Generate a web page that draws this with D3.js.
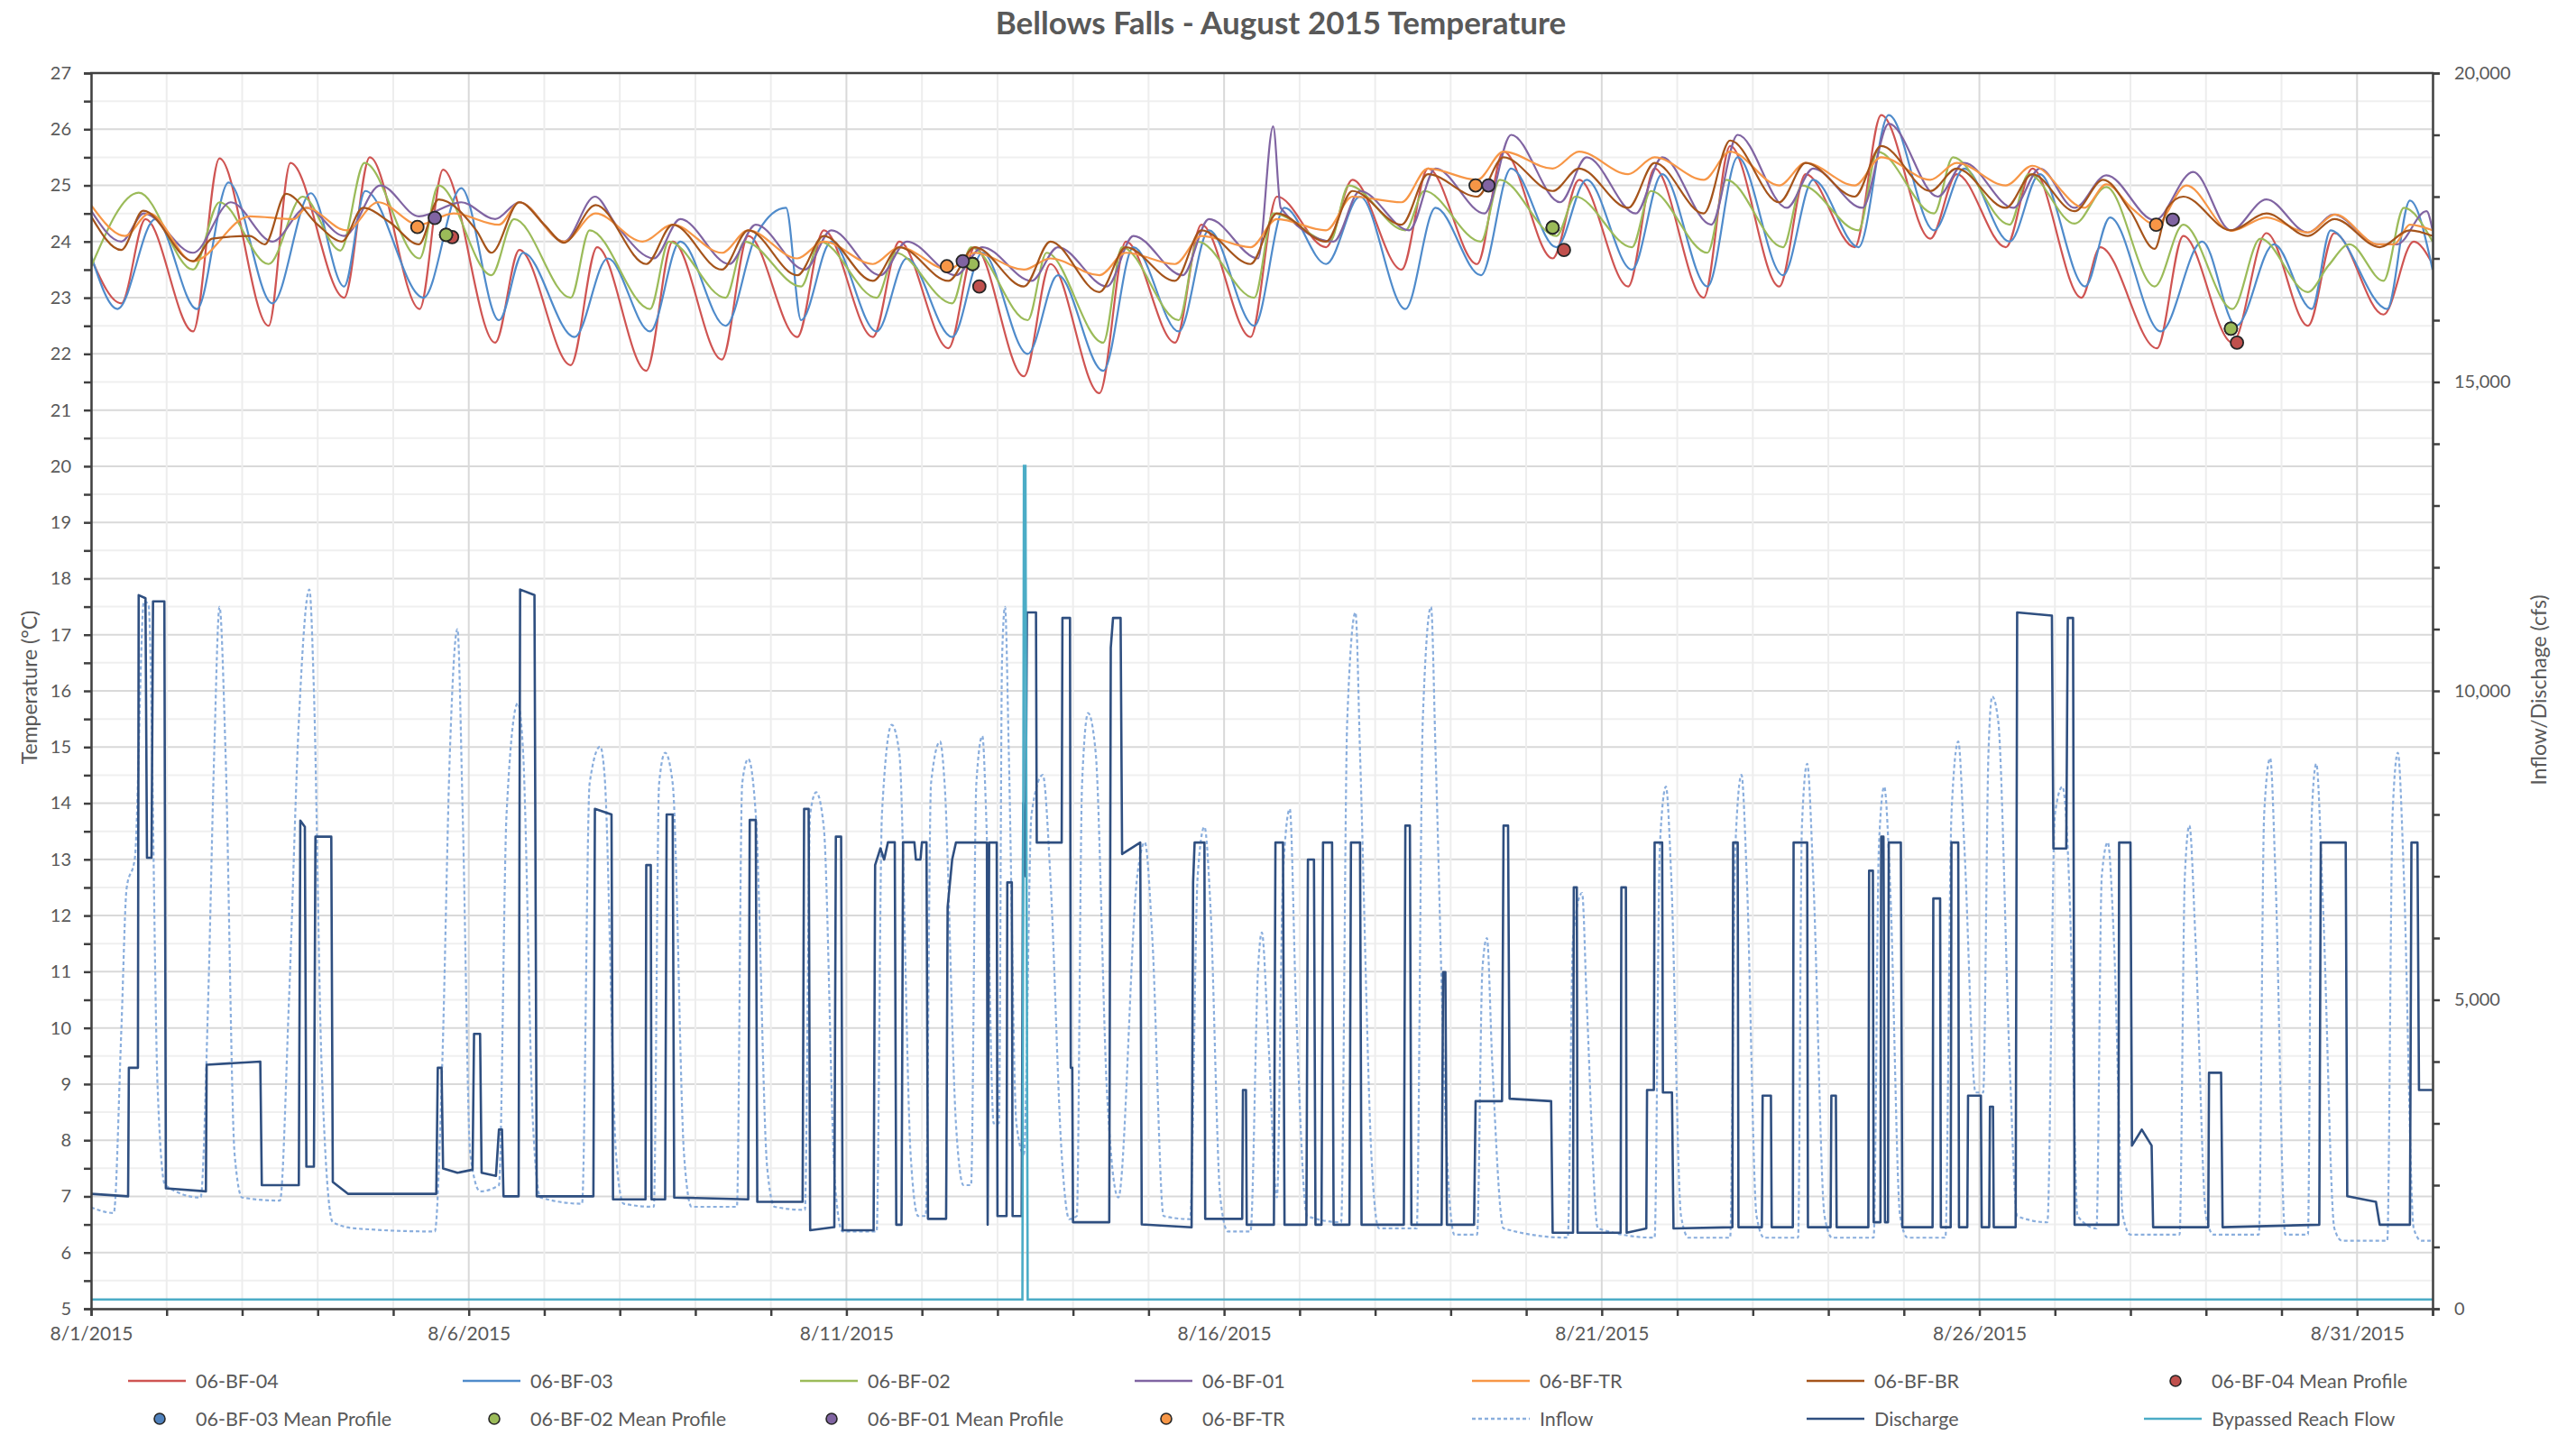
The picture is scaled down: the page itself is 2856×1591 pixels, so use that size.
<!DOCTYPE html>
<html><head><meta charset="utf-8">
<script src="https://cdn.jsdelivr.net/npm/d3@7"></script>
<style>body{margin:0;background:#fff}svg{display:block}text{font-family:Lato,"Open Sans",sans-serif;fill:#595959}</style>
</head><body><svg id="c" width="2856" height="1591"></svg>
<script>
// ---------- DATA (t = days since 8/1/2015 00:00) ----------
const chartTitle = "Bellows Falls - August 2015 Temperature";
const xTickLabels = ["8/1/2015","8/6/2015","8/11/2015","8/16/2015","8/21/2015","8/26/2015","8/31/2015"];
const tempTicks = [5,6,7,8,9,10,11,12,13,14,15,16,17,18,19,20,21,22,23,24,25,26,27];
const flowTicks = [0,5000,10000,15000,20000];

const bf04 = [[0,23.7],[0.4,22.9],[0.72,24.4],[1.35,22.4],[1.7,25.48],[2.35,22.5],[2.64,25.4],[3.35,23.0],[3.69,25.5],[4.35,22.8],[4.66,25.28],[5.35,22.2],[5.67,23.85],[6.35,21.8],[6.7,23.9],[7.35,21.7],[7.7,24.0],[8.35,21.9],[8.7,24.1],[9.35,22.3],[9.7,24.2],[10.35,22.3],[10.7,24.0],[11.35,22.1],[11.7,23.9],[12.35,21.6],[12.7,23.6],[13.35,21.3],[13.7,24.0],[14.35,22.2],[14.7,24.3],[15.35,22.3],[15.7,24.8],[16.35,23.9],[16.7,25.1],[17.35,23.5],[17.7,25.3],[18.35,23.6],[18.7,25.6],[19.35,23.7],[19.7,25.1],[20.35,23.2],[20.7,25.3],[21.35,23.0],[21.7,25.7],[22.35,23.2],[22.7,25.2],[23.35,23.9],[23.7,26.25],[24.35,24.05],[24.7,25.2],[25.35,23.9],[25.7,25.3],[26.35,23.0],[26.6,23.9],[27.35,22.1],[27.7,24.1],[28.35,22.2],[28.8,24.15],[29.35,22.5],[29.7,24.15],[30.35,22.7],[30.75,24.0],[31,23.6]];
const bf03 = [[0,23.75],[0.35,22.8],[0.85,24.4],[1.4,22.8],[1.82,25.05],[2.4,22.9],[2.91,24.86],[3.35,23.2],[3.63,24.9],[4.4,23.0],[4.9,24.95],[5.4,22.6],[5.72,23.8],[6.4,22.3],[6.84,23.7],[7.4,22.4],[7.8,24.0],[8.4,22.5],[8.8,24.1],[9.2,24.6],[9.4,22.6],[9.8,24.0],[10.4,22.4],[10.8,23.7],[11.4,22.3],[11.8,23.8],[12.4,22.0],[12.8,23.4],[13.4,21.7],[13.8,23.9],[14.4,22.4],[14.8,24.2],[15.4,22.5],[15.8,24.6],[16.35,23.6],[16.8,24.8],[17.4,22.8],[17.8,24.6],[18.4,23.4],[18.8,25.3],[19.4,23.9],[19.8,25.1],[20.4,23.5],[20.8,25.2],[21.4,23.2],[21.8,25.5],[22.4,23.4],[22.8,25.1],[23.4,23.9],[23.8,26.25],[24.4,24.2],[24.8,25.3],[25.4,24.0],[25.8,25.2],[26.4,23.2],[26.73,24.43],[27.4,22.4],[27.95,24.0],[28.4,22.5],[28.9,23.95],[29.4,22.8],[29.65,24.2],[30.4,22.8],[30.7,24.73],[31,23.5]];
const bf02 = [[0,23.55],[0.63,24.87],[1.35,23.5],[1.7,24.7],[2.35,23.6],[2.8,24.8],[3.3,23.84],[3.62,25.4],[4.35,23.7],[4.6,25.0],[5.3,23.4],[5.6,24.4],[6.35,23.0],[6.6,24.2],[7.4,22.8],[7.65,24.0],[8.4,23.0],[8.65,24.0],[9.4,23.2],[9.65,24.0],[10.4,23.0],[10.65,23.8],[11.4,22.9],[11.65,23.9],[12.4,22.6],[12.65,23.8],[13.4,22.2],[13.65,23.9],[14.4,22.6],[14.65,24.0],[15.4,23.0],[15.65,24.5],[16.4,24.0],[16.65,25.0],[17.4,24.2],[17.65,24.9],[18.4,24.0],[18.65,25.1],[19.4,24.1],[19.65,24.8],[20.4,23.9],[20.65,24.9],[21.4,23.8],[21.65,25.1],[22.4,23.9],[22.65,25.0],[23.4,24.2],[23.65,25.6],[24.4,24.5],[24.65,25.5],[25.4,24.3],[25.65,25.2],[26.26,24.32],[26.68,24.97],[27.32,23.2],[27.7,24.3],[28.35,22.8],[28.72,24.05],[29.35,23.1],[29.62,23.57],[29.9,23.95],[30.35,23.3],[30.62,24.6],[31,24.0]];
const bf01 = [[0,24.55],[0.4,24.0],[0.7,24.5],[1.35,23.8],[1.85,24.7],[2.4,24.0],[2.85,24.6],[3.35,24.1],[3.83,25.0],[4.34,24.45],[4.9,24.7],[5.35,24.4],[5.67,24.7],[6.26,24.0],[6.67,24.8],[6.95,24.3],[7.45,23.7],[7.8,24.4],[8.45,23.6],[8.8,24.3],[9.45,23.5],[9.8,24.2],[10.45,23.4],[10.8,24.0],[11.45,23.4],[11.8,23.9],[12.45,23.3],[12.8,23.9],[13.45,23.2],[13.8,24.1],[14.45,23.4],[14.8,24.4],[15.45,23.7],[15.65,26.05],[15.75,24.6],[16.45,24.0],[16.8,24.9],[17.45,24.2],[17.8,25.3],[18.45,24.5],[18.8,25.9],[19.45,24.7],[19.8,25.5],[20.45,24.5],[20.8,25.5],[21.45,24.3],[21.8,25.9],[22.45,24.6],[22.8,25.3],[23.45,24.6],[23.8,26.1],[24.45,24.8],[24.8,25.4],[25.45,24.6],[25.8,25.3],[26.26,24.6],[26.68,25.18],[27.32,24.38],[27.83,25.24],[28.33,24.2],[28.8,24.75],[29.35,24.16],[29.69,24.48],[30.28,23.95],[30.53,23.95],[30.92,24.54],[31,24.2]];
const bfTR = [[0,24.65],[0.45,24.1],[0.77,24.5],[1.35,23.65],[2.1,24.45],[2.69,24.4],[2.85,24.6],[3.38,24.2],[3.8,24.7],[4.34,24.3],[4.8,24.5],[5.4,24.3],[5.67,24.7],[6.26,24.0],[6.68,24.5],[7.3,24.0],[7.7,24.3],[8.35,23.8],[8.7,24.2],[9.35,23.7],[9.7,24.0],[10.35,23.6],[10.7,23.9],[11.35,23.5],[11.7,23.8],[12.35,23.5],[12.7,23.7],[13.35,23.4],[13.7,23.8],[14.35,23.6],[14.7,24.1],[15.35,23.9],[15.7,24.4],[16.35,24.2],[16.7,24.8],[17.35,24.7],[17.7,25.3],[18.35,25.1],[18.7,25.6],[19.35,25.3],[19.7,25.6],[20.35,25.2],[20.7,25.5],[21.35,25.1],[21.7,25.6],[22.35,25.0],[22.7,25.4],[23.35,25.0],[23.7,25.5],[24.35,25.1],[24.7,25.4],[25.35,25.0],[25.7,25.35],[26.39,24.6],[26.68,25.02],[27.02,24.59],[27.34,24.3],[27.74,25.0],[28.33,24.19],[28.8,24.43],[29.35,24.16],[29.71,24.48],[30.28,23.95],[30.49,23.95],[30.7,24.3],[31,24.2]];
const bfBR = [[0,24.45],[0.4,23.85],[0.69,24.55],[1.35,23.65],[1.6,24.05],[2.1,24.1],[2.3,23.95],[2.58,24.85],[3.0,24.3],[3.32,24.0],[3.6,24.6],[3.95,24.35],[4.34,23.95],[4.6,24.75],[5.1,24.2],[5.3,23.8],[5.67,24.7],[6.0,24.3],[6.26,23.98],[6.68,24.65],[7.35,23.6],[7.7,24.3],[8.35,23.5],[8.7,24.2],[9.35,23.4],[9.7,24.1],[10.35,23.3],[10.7,23.9],[11.35,23.3],[11.7,23.9],[12.35,23.2],[12.7,24.0],[13.35,23.1],[13.7,23.9],[14.35,23.3],[14.7,24.2],[15.35,23.6],[15.7,24.5],[16.35,24.0],[16.7,24.9],[17.35,24.3],[17.7,25.2],[18.35,24.8],[18.7,25.5],[19.35,24.9],[19.7,25.3],[20.35,24.6],[20.7,25.4],[21.35,24.5],[21.7,25.8],[22.35,24.7],[22.7,25.4],[23.35,24.8],[23.7,25.7],[24.35,24.9],[24.7,25.3],[25.35,24.6],[25.7,25.2],[26.26,24.54],[26.64,25.1],[27.0,24.54],[27.32,23.87],[27.49,24.6],[27.7,24.8],[28.33,24.2],[28.8,24.5],[29.35,24.1],[29.7,24.4],[30.3,23.9],[30.7,24.2],[31,24.1]];

const mp04 = [[4.78,24.08],[11.76,23.2],[19.5,23.85],[28.41,22.2]];
const mp03 = [[4.70,24.12],[11.67,23.6],[19.35,24.25],[28.33,22.45]];
const mp02 = [[4.70,24.12],[11.67,23.6],[19.35,24.25],[28.33,22.45]];
const mp01 = [[4.55,24.42],[11.54,23.65],[18.5,25.0],[27.56,24.39]];
const mpTR = [[4.32,24.26],[11.33,23.56],[18.33,25.0],[27.34,24.3]];

const inflow = [[0,1640],[0.3,1550],[0.4,4500],[0.47,6800],[0.58,7300],[0.7,11450],[0.76,11400],[0.88,3600],[0.98,2000],[1.45,1800],[1.55,5000],[1.63,9000],[1.7,11360],[1.78,9000],[1.9,2500],[2.0,1800],[2.5,1750],[2.62,5000],[2.75,9500],[2.89,11640],[2.95,10000],[3.05,4000],[3.2,1400],[3.5,1300],[4.55,1250],[4.65,4000],[4.75,9000],[4.85,11000],[4.92,8000],[5.02,2500],[5.15,1900],[5.4,2000],[5.5,8000],[5.65,9800],[5.72,9000],[5.85,3000],[5.95,1800],[6.5,1700],[6.6,8500],[6.74,9100],[6.8,8600],[6.95,2500],[7.05,1700],[7.45,1650],[7.52,8500],[7.6,9000],[7.7,8500],[7.85,2500],[7.95,1650],[8.55,1650],[8.62,8500],[8.7,8900],[8.8,8000],[8.95,2300],[9.05,1650],[9.45,1600],[9.52,8000],[9.6,8360],[9.7,7800],[9.85,2000],[9.95,1250],[10.4,1250],[10.47,8000],[10.6,9450],[10.7,9000],[10.85,2500],[10.95,1500],[11.05,1500],[11.12,8500],[11.24,9180],[11.3,8500],[11.45,3000],[11.55,2000],[11.65,2000],[11.72,8500],[11.8,9270],[11.85,8000],[11.95,3000],[12.02,3000],[12.06,10500],[12.1,11360],[12.15,9000],[12.25,3000],[12.35,2500],[12.45,8000],[12.6,8640],[12.7,7000],[12.85,2500],[12.95,1450],[13.05,1500],[13.12,8500],[13.2,9640],[13.3,9000],[13.45,3500],[13.6,1800],[13.85,7000],[13.95,7550],[14.05,6000],[14.2,1500],[14.55,1450],[14.65,7000],[14.74,7800],[14.82,6500],[14.95,1800],[15.05,1250],[15.35,1250],[15.45,5500],[15.5,6090],[15.58,4500],[15.7,1800],[15.78,7000],[15.87,8090],[15.95,5000],[16.1,1500],[16.55,1400],[16.63,9500],[16.74,11270],[16.8,9000],[16.95,2500],[17.05,1300],[17.55,1300],[17.63,9500],[17.74,11360],[17.8,9000],[17.95,2500],[18.05,1200],[18.35,1200],[18.42,5500],[18.48,6000],[18.55,4000],[18.7,1300],[19.55,1150],[19.62,6000],[19.74,6730],[19.8,5000],[19.95,1300],[20.7,1150],[20.77,7500],[20.85,8450],[20.92,7000],[21.05,1500],[21.15,1150],[21.7,1150],[21.77,7500],[21.85,8640],[21.92,7000],[22.05,1500],[22.15,1150],[22.6,1150],[22.65,7800],[22.72,8820],[22.8,7000],[22.95,1500],[23.05,1150],[23.6,1150],[23.67,7500],[23.74,8450],[23.82,6800],[23.95,1500],[24.05,1150],[24.55,1150],[24.63,8000],[24.72,9180],[24.8,7500],[24.95,3500],[25.05,3500],[25.12,9000],[25.17,9910],[25.25,9500],[25.4,4000],[25.5,1500],[25.9,1400],[26.0,8000],[26.1,8450],[26.2,6500],[26.3,1500],[26.55,1300],[26.62,7000],[26.7,7550],[26.78,6000],[26.9,1500],[27.0,1200],[27.65,1200],[27.72,7000],[27.78,7820],[27.86,6000],[28.0,1500],[28.1,1200],[28.7,1200],[28.77,8000],[28.85,8910],[28.92,7000],[29.05,1200],[29.35,1200],[29.4,8000],[29.46,8820],[29.55,6500],[29.7,1300],[29.8,1100],[30.4,1100],[30.47,8000],[30.54,9000],[30.62,7000],[30.75,1300],[30.85,1100],[31,1100]];

const discharge = [[0,1860],[0.49,1820],[0.5,3900],[0.62,3900],[0.63,11550],[0.72,11500],[0.74,7300],[0.8,7300],[0.82,11450],[0.97,11450],[0.99,1950],[1.52,1900],[1.53,3950],[2.24,4000],[2.26,2000],[2.75,2000],[2.77,7900],[2.83,7800],[2.85,2300],[2.95,2300],[2.97,7640],[3.18,7640],[3.2,2050],[3.4,1860],[4.57,1860],[4.59,3900],[4.64,3900],[4.66,2270],[4.85,2200],[5.05,2250],[5.07,4450],[5.15,4450],[5.17,2200],[5.36,2150],[5.4,2900],[5.44,2900],[5.46,1820],[5.66,1820],[5.68,11640],[5.87,11550],[5.9,1820],[6.65,1820],[6.67,8090],[6.89,8000],[6.91,1770],[7.34,1770],[7.35,7180],[7.41,7180],[7.42,1770],[7.6,1770],[7.62,8000],[7.7,8000],[7.72,1800],[8.7,1770],[8.72,7910],[8.8,7910],[8.82,1730],[9.42,1730],[9.44,8090],[9.5,8090],[9.52,1270],[9.84,1320],[9.86,7640],[9.93,7640],[9.95,1270],[10.36,1270],[10.38,7180],[10.45,7450],[10.5,7270],[10.55,7550],[10.64,7550],[10.66,1360],[10.73,1360],[10.75,7550],[10.9,7550],[10.92,7270],[10.98,7270],[11.0,7550],[11.06,7550],[11.08,1455],[11.32,1455],[11.34,6500],[11.4,7270],[11.45,7545],[11.86,7545],[11.87,1360],[11.89,7545],[11.99,7545],[12.0,1500],[12.12,1500],[12.13,6900],[12.19,6900],[12.2,1500],[12.32,1500],[12.34,8180],[12.37,7000],[12.39,11270],[12.51,11270],[12.52,7545],[12.85,7545],[12.86,11180],[12.96,11180],[12.97,3900],[12.99,3900],[13.0,1400],[13.48,1400],[13.5,10700],[13.53,11180],[13.63,11180],[13.65,7360],[13.89,7545],[13.91,1364],[14.57,1318],[14.59,6900],[14.61,7545],[14.74,7545],[14.75,1455],[15.24,1455],[15.25,3540],[15.29,3540],[15.3,1360],[15.66,1360],[15.68,7545],[15.78,7545],[15.8,1360],[16.09,1360],[16.11,7270],[16.19,7270],[16.21,1360],[16.29,1360],[16.31,7545],[16.43,7545],[16.45,1360],[16.66,1360],[16.68,7545],[16.8,7545],[16.82,1360],[17.38,1360],[17.4,7820],[17.46,7820],[17.48,1360],[17.88,1360],[17.9,5450],[17.93,5450],[17.95,1360],[18.31,1360],[18.33,3360],[18.68,3360],[18.7,7820],[18.76,7820],[18.78,3400],[19.33,3360],[19.35,1230],[19.62,1230],[19.63,6820],[19.67,6820],[19.68,1230],[20.25,1230],[20.26,6820],[20.32,6820],[20.33,1230],[20.59,1300],[20.6,3540],[20.69,3540],[20.7,7545],[20.8,7545],[20.81,3500],[20.93,3500],[20.95,1300],[21.73,1320],[21.74,7545],[21.8,7545],[21.81,1320],[22.12,1320],[22.13,3450],[22.24,3450],[22.25,1320],[22.53,1320],[22.54,7545],[22.72,7545],[22.73,1320],[23.03,1320],[23.04,3450],[23.1,3450],[23.11,1320],[23.53,1320],[23.54,7090],[23.59,7090],[23.6,1400],[23.69,1400],[23.7,7640],[23.73,7640],[23.75,1400],[23.79,1400],[23.8,7545],[23.96,7545],[23.98,1320],[24.38,1320],[24.39,6640],[24.48,6640],[24.49,1320],[24.62,1320],[24.63,7545],[24.72,7545],[24.73,1320],[24.84,1320],[24.85,3450],[25.02,3450],[25.03,1320],[25.13,1320],[25.14,3270],[25.18,3270],[25.19,1320],[25.48,1320],[25.5,11270],[25.96,11220],[25.98,7450],[26.15,7450],[26.17,11180],[26.24,11180],[26.26,1360],[26.84,1360],[26.85,7545],[27.0,7545],[27.02,2640],[27.15,2900],[27.28,2640],[27.3,1320],[28.03,1320],[28.04,3820],[28.2,3820],[28.22,1320],[29.5,1360],[29.52,7545],[29.85,7545],[29.87,1820],[30.25,1730],[30.3,1360],[30.7,1360],[30.72,7545],[30.8,7545],[30.82,3540],[31,3540]];

const bypass = [[0,150],[12.33,150],[12.35,13640],[12.37,13640],[12.40,150],[31,150]];

// ---------- LAYOUT ----------
const svg = d3.select("#c");
const L=101, R=2697, T=81, B=1451;
const t0 = new Date(2015,7,1), t1 = new Date(2015,8,1);
const toDate = t => new Date(t0.getTime()+t*864e5);
const x = d3.scaleTime().domain([t0,t1]).range([L,R]);
const yT = d3.scaleLinear().domain([5,27]).range([B,T]);
const yQ = d3.scaleLinear().domain([0,20000]).range([B,T]);
const fmtDate = d3.timeFormat("%-m/%-d/%Y");

// gridlines
const g = svg.append("g");
const halfTicks = d3.range(5,27.01,0.5);
g.selectAll("line.hg").data(halfTicks).join("line")
  .attr("x1",L).attr("x2",R).attr("y1",d=>yT(d)).attr("y2",d=>yT(d))
  .attr("stroke",d=>Number.isInteger(d)?"#d9d9d9":"#efefef").attr("stroke-width",2);
const days = d3.timeDay.range(t0, d3.timeDay.offset(t1,1));
g.selectAll("line.vg").data(days).join("line")
  .attr("x1",d=>x(d)).attr("x2",d=>x(d)).attr("y1",T).attr("y2",B)
  .attr("stroke",d=>xTickLabels.includes(fmtDate(d))?"#d9d9d9":"#ededed").attr("stroke-width",2);

// clip
svg.append("clipPath").attr("id","clip").append("rect").attr("x",L).attr("y",T).attr("width",R-L).attr("height",B-T);
const plot = svg.append("g").attr("clip-path","url(#clip)");

const lineT = d3.line().curve(d3.curveMonotoneX).x(d=>x(toDate(d[0]))).y(d=>yT(d[1]));
const lineQs = d3.line().curve(d3.curveMonotoneX).x(d=>x(toDate(d[0]))).y(d=>yQ(d[1]));
const lineQ = d3.line().x(d=>x(toDate(d[0]))).y(d=>yQ(d[1]));

const tempSeries = [
  {name:"06-BF-04", data:bf04, color:"#CF5452"},
  {name:"06-BF-03", data:bf03, color:"#4F8BCB"},
  {name:"06-BF-02", data:bf02, color:"#9BBB59"},
  {name:"06-BF-01", data:bf01, color:"#8064A2"},
  {name:"06-BF-TR", data:bfTR, color:"#F79646"},
  {name:"06-BF-BR", data:bfBR, color:"#A5541B"}
];
const mpSeries = [
  {name:"06-BF-04 Mean Profile", data:mp04, color:"#C0504D"},
  {name:"06-BF-03 Mean Profile", data:mp03, color:"#4F81BD"},
  {name:"06-BF-02 Mean Profile", data:mp02, color:"#9BBB59"},
  {name:"06-BF-01 Mean Profile", data:mp01, color:"#8064A2"},
  {name:"06-BF-TR", data:mpTR, color:"#F79646"}
];

// flow series (secondary axis)
plot.append("path").attr("d",lineQs(inflow)).attr("fill","none").attr("stroke","#8AAEDD").attr("stroke-width",2.2).attr("stroke-dasharray","4,3");
plot.append("path").attr("d",lineQ(discharge)).attr("fill","none").attr("stroke","#2F4F80").attr("stroke-width",2.6).attr("stroke-linejoin","round");
plot.append("path").attr("d",lineQ(bypass)).attr("fill","none").attr("stroke","#4BACC6").attr("stroke-width",2.6);

tempSeries.forEach(s=>{
  plot.append("path").attr("d",lineT(s.data)).attr("fill","none").attr("stroke",s.color).attr("stroke-width",2.2).attr("stroke-linejoin","round");
});
mpSeries.forEach(s=>{
  plot.selectAll(null).data(s.data).join("circle")
    .attr("cx",d=>x(toDate(d[0]))).attr("cy",d=>yT(d[1])).attr("r",7)
    .attr("fill",s.color).attr("stroke","#262626").attr("stroke-width",1.8);
});

// axes
const axisColor="#404040";
const axL = d3.axisLeft(yT).tickValues(halfTicks).tickSize(8).tickFormat(d=>Number.isInteger(d)?d:"");
const gl = svg.append("g").attr("transform",`translate(${L},0)`).call(axL);
const axRt = d3.axisRight(yQ).tickValues(d3.range(0,20001,1000)).tickSize(8).tickFormat(d=>flowTicks.includes(d)?d3.format(",")(d):"");
const gr = svg.append("g").attr("transform",`translate(${R},0)`).call(axRt);
const axB = d3.axisBottom(x).tickValues(days).tickSize(8).tickFormat(d=>{const s=fmtDate(d);return xTickLabels.includes(s)?s:"";});
const gb = svg.append("g").attr("transform",`translate(0,${B})`).call(axB);
[gl,gr,gb].forEach(a=>{
  a.select(".domain").attr("stroke",axisColor).attr("stroke-width",2.5);
  a.selectAll(".tick line").attr("stroke",axisColor).attr("stroke-width",2.5);
  a.selectAll("text").attr("font-size",20).attr("fill","#595959").attr("font-family","Lato, sans-serif");
});
gl.selectAll("text").attr("x",-22);
gr.selectAll("text").attr("x",24);
gb.selectAll("text").attr("y",20).attr("font-size",21);
// top border
svg.append("line").attr("x1",L-1).attr("x2",R+1).attr("y1",T).attr("y2",T).attr("stroke",axisColor).attr("stroke-width",2.5);

// titles
svg.append("text").attr("x",1420).attr("y",38).attr("text-anchor","middle").attr("font-size",35).attr("font-weight","bold").attr("fill","#595959").text(chartTitle);
svg.append("text").attr("transform","translate(32,762) rotate(-90)").attr("text-anchor","middle").attr("dominant-baseline","central").attr("font-size",23).text("Temperature (°C)");
svg.append("text").attr("transform","translate(2814,765) rotate(-90)").attr("text-anchor","middle").attr("dominant-baseline","central").attr("font-size",23).text("Inflow/Dischage (cfs)");

// legend
const legendCols = [217,588,962,1333,1707,2078,2452];
const legendRows = [1531,1573];
const legendItems = [
  {type:"line",name:"06-BF-04",color:"#CF5452"},
  {type:"line",name:"06-BF-03",color:"#4F8BCB"},
  {type:"line",name:"06-BF-02",color:"#9BBB59"},
  {type:"line",name:"06-BF-01",color:"#8064A2"},
  {type:"line",name:"06-BF-TR",color:"#F79646"},
  {type:"line",name:"06-BF-BR",color:"#A5541B"},
  {type:"dot",name:"06-BF-04 Mean Profile",color:"#C0504D"},
  {type:"dot",name:"06-BF-03 Mean Profile",color:"#4F81BD"},
  {type:"dot",name:"06-BF-02 Mean Profile",color:"#9BBB59"},
  {type:"dot",name:"06-BF-01 Mean Profile",color:"#8064A2"},
  {type:"dot",name:"06-BF-TR",color:"#F79646"},
  {type:"dash",name:"Inflow",color:"#8AAEDD"},
  {type:"line",name:"Discharge",color:"#2F4F80"},
  {type:"line",name:"Bypassed Reach Flow",color:"#4BACC6"}
];
const lg = svg.append("g");
legendItems.forEach((it,i)=>{
  const cx = legendCols[i%7], cy = legendRows[Math.floor(i/7)];
  if(it.type==="dot"){
    lg.append("circle").attr("cx",cx-40).attr("cy",cy).attr("r",6).attr("fill",it.color).attr("stroke","#262626").attr("stroke-width",1.6);
  } else {
    lg.append("line").attr("x1",cx-75).attr("x2",cx-11).attr("y1",cy).attr("y2",cy).attr("stroke",it.color).attr("stroke-width",2.6)
      .attr("stroke-dasharray",it.type==="dash"?"4,3":null);
  }
  lg.append("text").attr("x",cx).attr("y",cy).attr("dominant-baseline","central").attr("font-size",21.5).text(it.name);
});
</script></body></html>
